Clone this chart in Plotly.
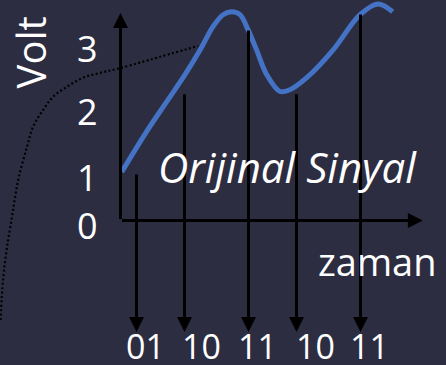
import plotly.graph_objects as go

# Analogue signal: time (zaman) vs voltage (Volt)
signal_t = [0.08, 1.70, 2.89, 4.03, 4.97, 5.78, 6.41, 6.95, 7.47, 7.97, 8.51,
            9.14, 9.97, 10.59, 11.64, 13.28, 14.97, 16.09, 17.01]
signal_v = [0.81, 1.51, 1.98, 2.43, 2.84, 3.23, 3.43, 3.48, 3.43, 3.18, 2.84,
            2.43, 2.15, 2.18, 2.38, 2.84, 3.43, 3.61, 3.48]

# Dotted lead-in curve
lead_t = [-7.50, -7.34, -7.09, -6.78, -6.59, -6.34, -5.84, -5.47, -4.84,
          -4.22, -3.34, -2.34, -1.28, -0.16, 1.84, 4.85]
lead_v = [-1.66, -0.99, -0.44, 0.06, 0.39, 0.74, 1.23, 1.56, 1.84,
          2.06, 2.23, 2.38, 2.46, 2.53, 2.68, 2.91]

# Sampling instants, sampled levels and the 2-bit codes
sample_t = [1, 4, 8, 11, 15]
sample_v = [0.79, 2.13, 3.19, 2.13, 3.46]
codes = ["01", "10", "11", "10", "11"]

# Voltage axis labels
volt_labels = ["0", "1", "2", "3"]

# Label placement (layout)
volt_label_pos = [-0.09, 0.71, 1.81, 2.875]
code_label_pos = [1.59, 5.09, 8.59, 12.16, 15.59]

# Axis extents
t_axis_end = 18.9
v_axis_end = 3.46
arrow_bottom_v = -1.86

BG = "#2d2d41"
BLUE = "#4472c4"
FONT = "Open Sans"

fig = go.Figure()

fig.add_trace(go.Scatter(
    x=lead_t, y=lead_v, mode="lines",
    line=dict(color="black", width=2.2, dash="2px,2.4px", shape="spline"),
    hoverinfo="skip",
))

fig.add_trace(go.Scatter(
    x=signal_t, y=signal_v, mode="lines",
    line=dict(color=BLUE, width=5, shape="spline", smoothing=1.0),
    hoverinfo="skip",
))

annotations = []

def arrow(x0, y0, x1, y1):
    return dict(
        x=x1, y=y1, ax=x0, ay=y0, xref="x", yref="y", axref="x", ayref="y",
        text="", showarrow=True, arrowhead=2, arrowsize=1, arrowwidth=3,
        arrowcolor="black", standoff=0, startstandoff=0,
    )

# Coordinate axes with arrowheads
annotations.append(arrow(0, 0, 0, v_axis_end))
annotations.append(arrow(0, 0, t_axis_end, 0))

# Sampling arrows down to the code row
for t, v in zip(sample_t, sample_v):
    annotations.append(arrow(t, v, t, arrow_bottom_v))

# Code labels
for t, c in zip(code_label_pos, codes):
    annotations.append(dict(
        x=t, y=-2.09, xref="x", yref="y", text=c, showarrow=False,
        font=dict(family=FONT, size=34, color="white"),
        xanchor="center", yanchor="middle",
    ))

# Voltage labels
for lab, v in zip(volt_labels, volt_label_pos):
    annotations.append(dict(
        x=-2.06, y=v, xref="x", yref="y", text=lab, showarrow=False,
        font=dict(family=FONT, size=36, color="white"),
        xanchor="center", yanchor="middle",
    ))

annotations.append(dict(
    x=-5.6, y=2.80, xref="x", yref="y", text="Volt", textangle=-90,
    showarrow=False, font=dict(family=FONT, size=40, color="white"),
    xanchor="center", yanchor="middle",
))

annotations.append(dict(
    x=10.44, y=0.90, xref="x", yref="y", text="<i>Orijinal Sinyal</i>",
    showarrow=False, font=dict(family=FONT, size=42, color="white"),
    xanchor="center", yanchor="middle",
))

annotations.append(dict(
    x=16.06, y=-0.67, xref="x", yref="y", text="zaman",
    showarrow=False, font=dict(family=FONT, size=38, color="white"),
    xanchor="center", yanchor="middle",
))

fig.update_layout(
    width=446, height=365,
    margin=dict(l=0, r=0, t=0, b=0),
    paper_bgcolor=BG, plot_bgcolor=BG,
    showlegend=False,
    xaxis=dict(range=[-7.53125, 20.34375], visible=False, fixedrange=True),
    yaxis=dict(range=[-2.4083, 3.675], visible=False, fixedrange=True),
    annotations=annotations,
)

fig.write_html("out.html")
